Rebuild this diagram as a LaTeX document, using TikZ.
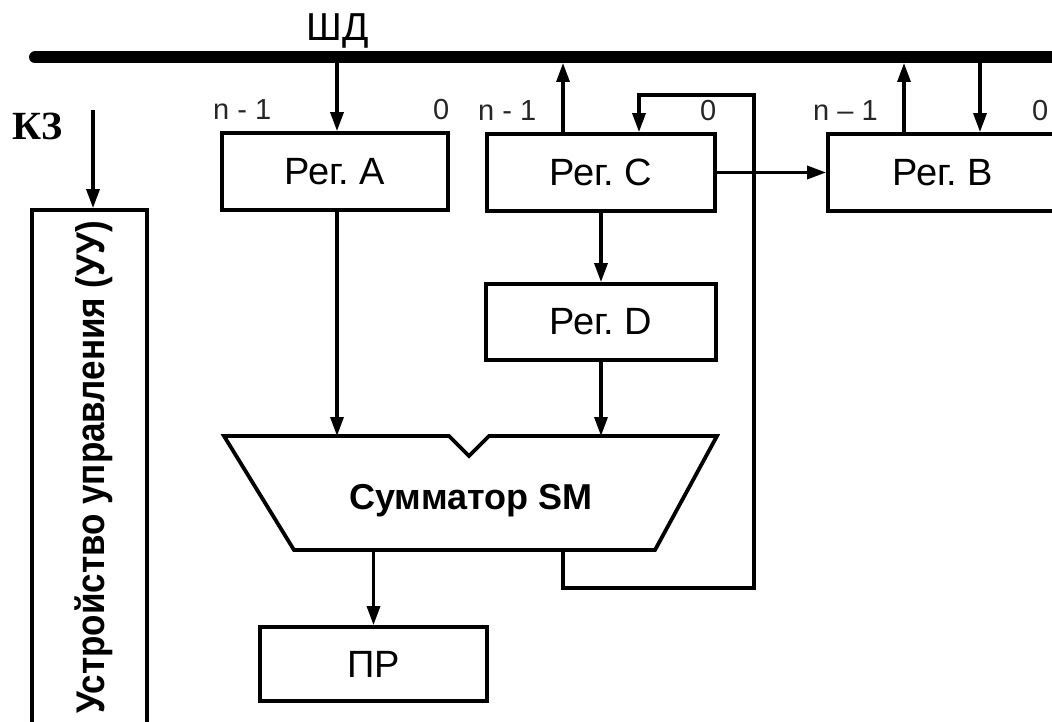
\documentclass[tikz,border=0pt]{standalone}
\usepackage{fontspec}
\setmainfont{Liberation Sans}
\newfontfamily\kzfont{Liberation Serif}
\usetikzlibrary{arrows.meta}
\tikzset{
  wire/.style={line width=3.3pt},
  arr/.style={wire, -{Triangle[length=19pt,width=13pt]}},
  reg/.style={draw, line width=3.8pt, inner sep=0pt, fill=white,
              font=\fontsize{38}{40}\selectfont},
  bitlabel/.style={font=\fontsize{29}{30}\selectfont, text=black!85,
                   inner sep=0pt, anchor=base west},
}
\newcommand{\regname}[1]{Рег.\hspace{0.27em}#1}
\begin{document}
\begin{tikzpicture}[x=1pt,y=-1pt]
\useasboundingbox (0,0) rectangle (1052,722);
\clip (0,0) rectangle (1052,722);
\fill[white] (0,0) rectangle (1052,722);

% data bus
\coordinate (busL) at (35,57.5);
\coordinate (busR) at (1080,57.5);
\draw[line width=12pt, line cap=round] (busL) -- (busR);
\node[font=\fontsize{39}{42}\selectfont, inner sep=0pt, anchor=base] (shd) at (337.5,41) {ШД};

% bus taps (lower edge of the bus)
\coordinate (tapA)  at (337,63);
\coordinate (tapC)  at (563,63);
\coordinate (tapBo) at (904,63);
\coordinate (tapBi) at (980,63);

% registers
\node[reg, minimum width=226pt, minimum height=77pt] (regA) at (335,171.5) {\regname{A}};
\node[reg, minimum width=228pt, minimum height=77pt] (regC) at (601,172.5) {\regname{C}};
\node[reg, minimum width=230pt, minimum height=77pt] (regB) at (943,172.5) {\regname{B}};
\node[reg, minimum width=230pt, minimum height=76pt] (regD) at (601,322) {\regname{D}};
\node[reg, minimum width=227pt, minimum height=74pt] (pr)   at (373.5,664) {ПР};

% bit numbering
\node[bitlabel] (a1) at (213,120) {n - 1};
\node[bitlabel] (a0) at (433,120) {0};
\node[bitlabel] (c1) at (478,121) {n - 1};
\node[bitlabel] (c0) at (700,121) {0};
\node[bitlabel] (b1) at (813,121) {n – 1};
\node[bitlabel] (b0) at (1032,121) {0};

% control unit
\node[draw, line width=3.8pt, minimum width=115pt, minimum height=560pt, inner sep=0pt] (uu) at (89.5,490) {};
\node[rotate=90, inner sep=0pt, font=\bfseries\fontsize{40}{44}\selectfont] (uutext) at (94,467.5)
  {\scalebox{0.875}[1]{Устройство управления (УУ)}};
\node[font=\kzfont\bfseries\fontsize{40}{44}\selectfont, inner sep=0pt, anchor=base west] (kz) at (12,140) {КЗ};
\coordinate (kzin) at (93,110);
\draw[arr] (kzin) -- (kzin |- uu.north);

% adder
\coordinate (sTL) at (224,436);
\coordinate (nL)  at (449,436);
\coordinate (nB)  at (469,456);
\coordinate (nR)  at (489,436);
\coordinate (sTR) at (717,436);
\coordinate (sBR) at (655,550);
\coordinate (sBL) at (294,550);
\draw[line width=3.8pt, line join=miter] (sTL) -- (nL) -- (nB) -- (nR) -- (sTR) -- (sBR) -- (sBL) -- cycle;
\node[font=\bfseries\fontsize{36}{40}\selectfont, inner sep=0pt, anchor=base] (sm) at (471,509) {Сумматор SM};

% bus transfers
\draw[arr] (tapA) -- (tapA |- regA.north);
\draw[arr] (tapC |- regC.north) -- (tapC);
\draw[arr] (tapBo |- regB.north) -- (tapBo);
\draw[arr] (tapBi) -- (tapBi |- regB.north);

% register transfers
\draw[arr] (regC.east) -- (regB.west);
\draw[arr] (regC.south) -- (regD.north);
\draw[arr] (regA.south -| tapA) -- (tapA |- sTL);
\draw[arr] (regD.south) -- (regD.south |- sTL);
\draw[arr] (pr.north |- sBL) -- (pr.north);

% adder result back into Рег. C
\coordinate (fbOut) at (563,550);
\coordinate (fbBR)  at (754,588);
\coordinate (fbTR)  at (754,95);
\coordinate (fbIn)  at (639,95);
\draw[arr] (fbOut) |- (fbBR) -- (fbTR) -| (fbIn |- regC.north);
\end{tikzpicture}
\end{document}
